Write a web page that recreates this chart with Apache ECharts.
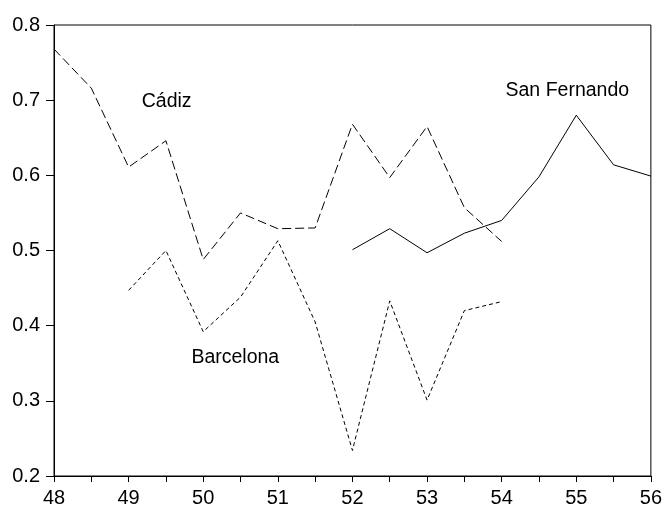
<!DOCTYPE html>
<html>
<head>
<meta charset="utf-8">
<script src="https://cdn.jsdelivr.net/npm/echarts@6/dist/echarts.min.js"></script>
<style>html,body{margin:0;padding:0;background:#fff;}#c{width:665px;height:510px;}</style>
</head>
<body>
<div id="c"></div>
<script>
var years = [48, 48.5, 49, 49.5, 50, 50.5, 51, 51.5, 52, 52.5, 53, 53.5, 54, 54.5, 55, 55.5, 56];
var cadiz = [0.768, 0.716, 0.611, 0.646, 0.488, 0.550, 0.529, 0.530, 0.668, 0.597, 0.665, 0.557, 0.512, null, null, null, null];
var barcelona = [null, null, 0.447, 0.500, 0.392, 0.438, 0.513, 0.405, 0.234, 0.433, 0.301, 0.420, 0.432, null, null, null, null];
var sanFernando = [null, null, null, null, null, null, null, null, 0.501, 0.529, 0.497, 0.523, 0.540, 0.598, 0.680, 0.614, 0.599];
var yTicks = [0.2, 0.3, 0.4, 0.5, 0.6, 0.7, 0.8];
var labelNames = ['Cádiz', 'Barcelona', 'San Fernando'];
var labelAt = [[49.51, 0.698], [50.43, 0.358], [54.88, 0.713]];

function pairs(vals) {
  return years.map(function (x, i) { return [x, vals[i]]; });
}
var font = 'Liberation Sans, Arial, sans-serif';
function note(i) {
  return {
    symbol: 'rect', symbolSize: 0, silent: true,
    data: [{ coord: labelAt[i], value: labelNames[i] }],
    label: { show: true, position: 'inside', formatter: labelNames[i], color: '#000', fontSize: 19.5, fontFamily: font }
  };
}
var chart = echarts.init(document.getElementById('c'), null, { renderer: 'canvas' });
chart.setOption({
  animation: false,
  backgroundColor: '#fff',
  grid: { left: 54, right: 13, top: 25, bottom: 34, show: true, borderColor: '#000', borderWidth: 1, backgroundColor: 'transparent' },
  xAxis: {
    type: 'value', min: 48, max: 56, interval: 0.5,
    axisLine: { show: true, lineStyle: { color: '#000', width: 1 } },
    axisTick: { show: true, length: 6, lineStyle: { color: '#000' } },
    axisLabel: {
      color: '#000', fontSize: 20, fontFamily: font, margin: 12,
      formatter: function (v) { return Math.abs(v - Math.round(v)) < 1e-6 ? String(Math.round(v)) : ''; }
    },
    splitLine: { show: false }
  },
  yAxis: {
    type: 'value', min: yTicks[0], max: yTicks[yTicks.length - 1], interval: 0.1,
    axisLine: { show: true, lineStyle: { color: '#000', width: 1 } },
    axisTick: { show: true, length: 8, lineStyle: { color: '#000' } },
    axisLabel: { color: '#000', fontSize: 20, fontFamily: font, margin: 14, formatter: function (v) { return v.toFixed(1); } },
    splitLine: { show: false }
  },
  series: [
    { name: 'Cádiz', type: 'line', data: pairs(cadiz), showSymbol: false, symbol: 'none', connectNulls: false,
      lineStyle: { color: '#000', width: 1, type: [9, 4] }, markPoint: note(0) },
    { name: 'Barcelona', type: 'line', data: pairs(barcelona), showSymbol: false, symbol: 'none', connectNulls: false,
      lineStyle: { color: '#000', width: 1, type: [4, 3] }, markPoint: note(1) },
    { name: 'San Fernando', type: 'line', data: pairs(sanFernando), showSymbol: false, symbol: 'none', connectNulls: false,
      lineStyle: { color: '#000', width: 1, type: 'solid' }, markPoint: note(2) }
  ]
});
</script>
</body>
</html>
